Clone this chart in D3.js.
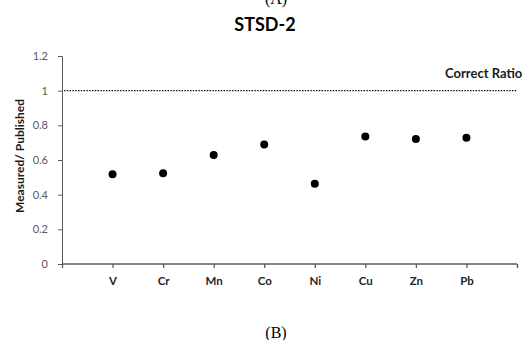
<!DOCTYPE html>
<html>
<head>
<meta charset="utf-8">
<script src="https://cdn.jsdelivr.net/npm/d3@7"></script>
<style>
  body { margin: 0; background: #fff; }
  svg { display: block; }
</style>
</head>
<body>
<svg id="chart" width="527" height="340"></svg>
<script>
const elements = ['V', 'Cr', 'Mn', 'Co', 'Ni', 'Cu', 'Zn', 'Pb'];
const ratios = [0.518, 0.523, 0.629, 0.69, 0.463, 0.735, 0.721, 0.729];
const yTicks = [0, 0.2, 0.4, 0.6, 0.8, 1, 1.2];
const correctRatio = 1;

const width = 527;
const height = 340;
const margin = { top: 56, right: 10, bottom: 76, left: 62 };
const innerWidth = width - margin.left - margin.right;
const innerHeight = height - margin.top - margin.bottom;
const font = 'Lato, "Open Sans", sans-serif';

const svg = d3.select('#chart');

const x = d3.scaleLinear().domain([0, elements.length + 1]).range([0, innerWidth]);
const y = d3.scaleLinear().domain([0, 1.2]).range([innerHeight, 0]);

// panel labels and title
svg.append('text')
  .attr('x', 276).attr('y', 4)
  .attr('text-anchor', 'middle')
  .attr('font-family', '"Liberation Serif", serif')
  .attr('font-size', 16)
  .text('(A)');

svg.append('text')
  .attr('x', 276).attr('y', 338)
  .attr('text-anchor', 'middle')
  .attr('font-family', '"Liberation Serif", serif')
  .attr('font-size', 16)
  .text('(B)');

svg.append('text')
  .attr('x', 265).attr('y', 31)
  .attr('text-anchor', 'middle')
  .attr('font-family', font)
  .attr('font-weight', 'bold')
  .attr('font-size', 18)
  .text('STSD-2');

const root = svg.append('g')
  .attr('transform', `translate(${margin.left}, ${margin.top})`);

// y axis
root.append('g')
  .call(d3.axisLeft(y).tickValues(yTicks).tickSize(4).tickPadding(10)
    .tickFormat((v) => d3.format('~g')(v)))
  .call((g) => g.selectAll('text')
    .attr('fill', '#595959').attr('font-size', 11).attr('font-family', font))
  .call((g) => g.selectAll('line, path').attr('stroke', '#595959').attr('stroke-width', 1));

// x axis
root.append('g')
  .attr('transform', `translate(0, ${innerHeight})`)
  .call(d3.axisBottom(x)
    .tickValues(d3.range(0, elements.length + 2))
    .tickSize(4).tickPadding(9)
    .tickFormat((i) => elements[i - 1] ?? ''))
  .call((g) => g.select('.domain').attr('d', `M0,0H${innerWidth}`))
  .call((g) => g.selectAll('text').filter((d) => !elements[d - 1]).remove())
  .call((g) => g.selectAll('text')
    .attr('fill', '#262626').attr('font-weight', 'bold')
    .attr('font-size', 11.5).attr('font-family', font))
  .call((g) => g.selectAll('line, path').attr('stroke', '#595959').attr('stroke-width', 1.3));

// reference line
root.append('line')
  .attr('x1', 2).attr('x2', innerWidth)
  .attr('y1', y(correctRatio)).attr('y2', y(correctRatio))
  .attr('stroke', '#000')
  .attr('stroke-width', 1.4)
  .attr('stroke-dasharray', '1.4 1.4');

root.append('text')
  .attr('x', 383).attr('y', y(correctRatio) - 13)
  .attr('font-family', font)
  .attr('font-weight', 'bold')
  .attr('font-size', 13)
  .attr('fill', '#1a1a1a')
  .text('Correct Ratio');

// points
root.selectAll('circle')
  .data(ratios)
  .enter()
  .append('circle')
  .attr('cx', (d, i) => x(i + 1))
  .attr('cy', (d) => y(d))
  .attr('r', 4)
  .attr('fill', '#000');

// y axis title
svg.append('text')
  .attr('transform', 'translate(24, 156) rotate(-90)')
  .attr('text-anchor', 'middle')
  .attr('font-family', font)
  .attr('font-weight', 'bold')
  .attr('font-size', 12)
  .attr('fill', '#1a1a1a')
  .text('Measured/ Published');
</script>
</body>
</html>
